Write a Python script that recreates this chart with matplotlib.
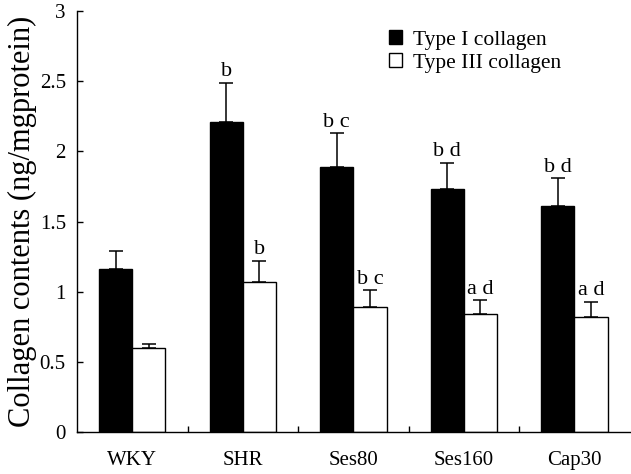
import numpy as np
import matplotlib.pyplot as plt

plt.rcParams['font.family'] = ['Liberation Serif', 'DejaVu Serif']

groups = ['WKY', 'SHR', 'Ses80', 'Ses160', 'Cap30']
type1 = [1.16, 2.21, 1.89, 1.73, 1.61]
type1_err = [0.13, 0.28, 0.24, 0.19, 0.20]
type3 = [0.60, 1.07, 0.89, 0.84, 0.82]
type3_err = [0.03, 0.15, 0.12, 0.10, 0.11]
type1_marks = ['', 'b', 'b c', 'b d', 'b d']
type3_marks = ['', 'b', 'b c', 'a d', 'a d']

x = np.arange(len(groups))
w = 0.3

fig = plt.figure(figsize=(6.31, 4.74), dpi=100)
ax = fig.add_axes([0.122, 0.0886, 0.876, 0.888])

ax.bar(x - w/2, type1, w, color='black', edgecolor='black', linewidth=1,
       label='Type I collagen')
ax.bar(x + w/2, type3, w, color='white', edgecolor='black', linewidth=1,
       label='Type III collagen')
ax.errorbar(x - w/2, type1, yerr=[np.zeros(5), type1_err], fmt='none',
            ecolor='black', elinewidth=1.1, capsize=5, capthick=1.1)
ax.errorbar(x + w/2, type3, yerr=[np.zeros(5), type3_err], fmt='none',
            ecolor='black', elinewidth=1.1, capsize=5, capthick=1.1)

for i in range(len(groups)):
    if type1_marks[i]:
        ax.text(x[i] - w/2, type1[i] + type1_err[i] + 0.01, type1_marks[i],
                ha='center', va='bottom', fontsize=16)
    if type3_marks[i]:
        ax.text(x[i] + w/2, type3[i] + type3_err[i] + 0.01, type3_marks[i],
                ha='center', va='bottom', fontsize=16)

ax.set_xlim(-0.5, 4.5)
ax.set_ylim(0, 3)
ax.set_yticks([0, 0.5, 1, 1.5, 2, 2.5, 3])
ax.set_yticklabels(['0', '0.5', '1', '1.5', '2', '2.5', '3'], fontsize=15)
ax.tick_params(axis='y', direction='in', length=4, width=1, pad=8)

ax.set_xticks(x[:-1] + 0.5)
ax.set_xticklabels([])
ax.tick_params(axis='x', which='major', direction='in', length=4, width=1)
ax.set_xticks(x, minor=True)
ax.set_xticklabels(groups, minor=True, fontsize=15)
ax.tick_params(axis='x', which='minor', length=0, pad=14)

for s in ['top', 'right']:
    ax.spines[s].set_visible(False)
for s in ['left', 'bottom']:
    ax.spines[s].set_linewidth(1)

ax.set_ylabel('Collagen contents (ng/mgprotein)', fontsize=22, labelpad=2)

ax.legend(loc='upper left', bbox_to_anchor=(0.53, 1.0), frameon=False,
          fontsize=15.5, handlelength=0.6, handleheight=0.6, handletextpad=0.5,
          labelspacing=0.15)

fig.savefig('out.png', dpi=100)
